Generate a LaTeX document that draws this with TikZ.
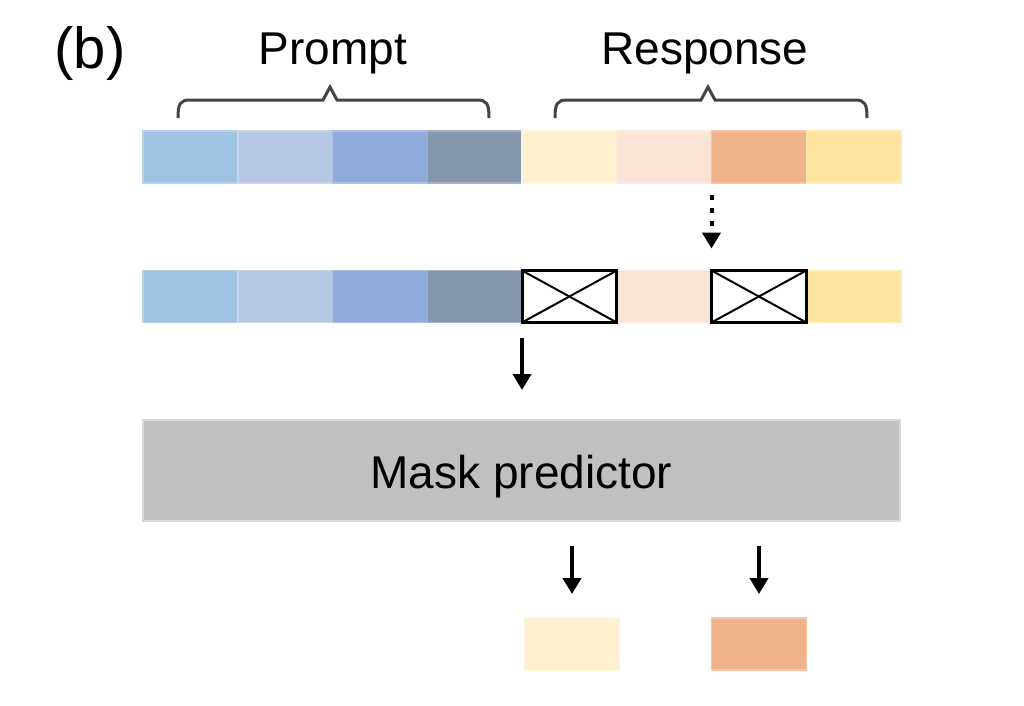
\documentclass[tikz,border=0pt]{standalone}
\usepackage{fontspec}
\setmainfont{Liberation Sans}
\usetikzlibrary{arrows.meta}
\definecolor{c1}{HTML}{9FC3E3}
\definecolor{c2}{HTML}{B6C7E5}
\definecolor{c3}{HTML}{8FABD9}
\definecolor{c4}{HTML}{8597AF}
\definecolor{c5}{HTML}{FFF1D0}
\definecolor{c6}{HTML}{FBE3D6}
\definecolor{c7}{HTML}{F0B28A}
\definecolor{c8}{HTML}{FFE4A0}
\definecolor{mpgray}{HTML}{C0C0C0}
\definecolor{mpedge}{HTML}{D9D9D9}
\definecolor{bracecol}{HTML}{444444}
\begin{document}
\begin{tikzpicture}[x=1pt,y=-1pt,
  cell/.style={minimum width=94.75pt,minimum height=52pt,inner sep=0pt,outer sep=0pt,line width=1.5pt},
  maskcell/.style={cell,fill=white,draw=black,line width=3pt},
  txt/.style={font=\fontsize{46}{50}\selectfont,inner sep=0pt,anchor=base},
  arr/.style={line width=4pt,-{Triangle[width=18pt,length=16pt]}},
  brace/.style={line width=3pt,draw=bracecol,line join=miter}]
\useasboundingbox (0,0) rectangle (1024,705);
\fill[white] (0,0) rectangle (1024,705);
% labels
\node[txt,font=\fontsize{58}{62}\selectfont] (lb) at (90,68) {(b)};
\node[txt] (lp) at (333,64) {Prompt};
\node[txt] (lr) at (705,64) {Response};
% braces
\draw[brace] (178,118) .. controls (178,104) and (180,100) .. (190,100) -- (323,100) -- (330,87) -- (337,100) -- (477,100) .. controls (487,100) and (489,104) .. (489,118);
\draw[brace] (555,118) .. controls (555,104) and (557,100) .. (567,100) -- (701,100) -- (708,87) -- (715,100) -- (855,100) .. controls (865,100) and (867,104) .. (867,118);
% row 1
\foreach \i/\c in {1/c1,2/c2,3/c3,4/c4,5/c5,6/c6,7/c7,8/c8}
  \node[cell,fill=\c,draw=\c!75!white] (a\i) at ({143+94.75*(\i-0.5)},157) {};
% row 2
\foreach \i/\c in {1/c1,2/c2,3/c3,4/c4,6/c6,8/c8}
  \node[cell,fill=\c,draw=\c!75!white] (b\i) at ({143+94.75*(\i-0.5)},296.5) {};
\foreach \i in {5,7}{
  \node[maskcell] (b\i) at ({143+94.75*(\i-0.5)},296.5) {};
  \draw[line width=2pt] (b\i.north west) -- (b\i.south east);
  \draw[line width=2pt] (b\i.south west) -- (b\i.north east);
}
% mask predictor
\node[fill=mpgray,draw=mpedge,line width=2pt,minimum width=757pt,minimum height=101pt,inner sep=0pt,
      font=\fontsize{46}{50}\selectfont,text height=35pt,text depth=0pt] (mp) at (521.5,470.5) {Mask predictor};
% outputs
\node[cell,fill=c5,draw=c5!75!white] (o1) at (572,644) {};
\node[cell,fill=c7,draw=c7!75!white] (o2) at (759,644) {};
% arrows
\draw[arr,dash pattern=on 5pt off 8pt,shorten <=12pt,shorten >=22pt] (a7.south west) -- (b7.north west);
\draw[arr,shorten <=15pt,shorten >=29pt] (b4.south east) -- (b4.south east |- mp.north);
\draw[arr,shorten <=24pt,shorten >=24pt] (mp.south -| o1.north) -- (o1.north);
\draw[arr,shorten <=24pt,shorten >=24pt] (mp.south -| o2.north) -- (o2.north);
\end{tikzpicture}
\end{document}
